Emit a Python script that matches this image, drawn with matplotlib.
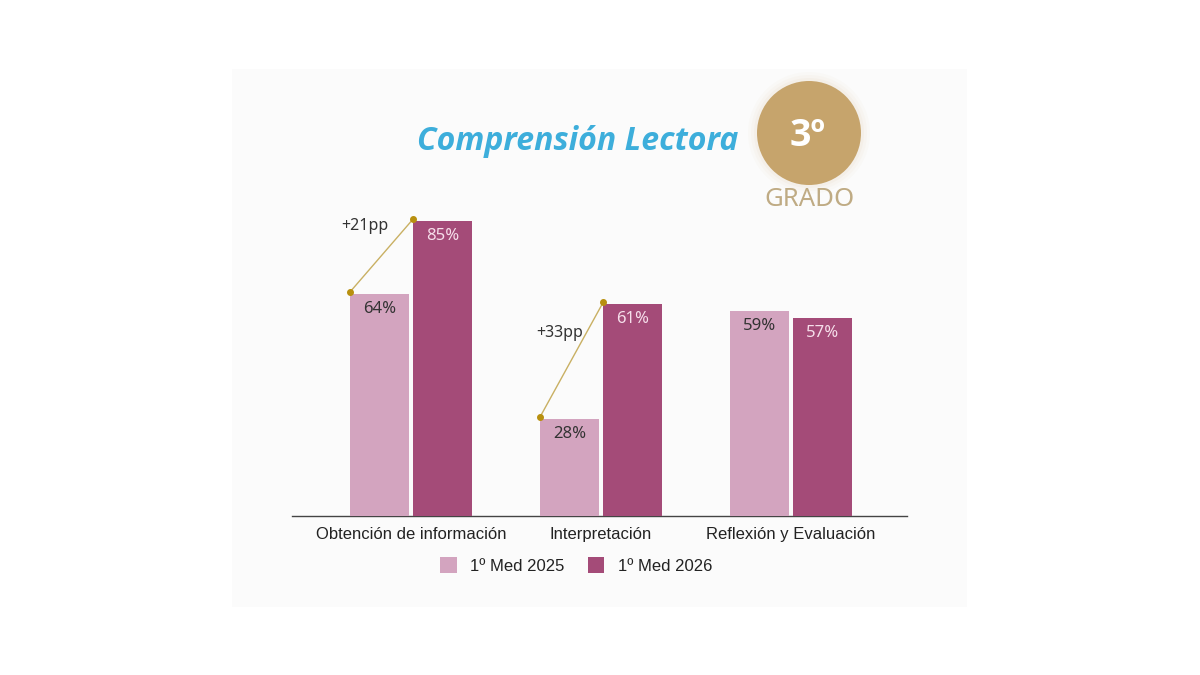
import matplotlib.pyplot as plt
from matplotlib.patches import Circle, Rectangle

categories = ['Obtención de información', 'Interpretación', 'Reflexión y Evaluación']
series_names = ['1º Med 2025', '1º Med 2026']
vals_2025 = [64, 28, 59]
vals_2026 = [85, 61, 57]
gains = ['+21pp', '+33pp', None]

light = '#d3a4bf'
dark = '#a44b78'
gold_line = '#c9b063'
gold_dot = '#b8900f'

fig = plt.figure(figsize=(12, 6.75), dpi=100)
fig.patch.set_facecolor('white')

# background layer in pixel coordinates: panel, title, badge
bg = fig.add_axes([0, 0, 1, 1], zorder=-1)
bg.set_xlim(0, 1200)
bg.set_ylim(675, 0)
bg.axis('off')
bg.add_patch(Rectangle((232, 69), 735, 538, facecolor='#fbfbfb', edgecolor='none'))

bg.text(578, 141, 'Comprensión Lectora', ha='center', va='center',
        fontsize=23, fontweight='bold', style='italic', color='#3daedb', family='Open Sans')

cx, cy, r = 809, 133, 52
for k, a in [(9, 0.03), (6, 0.04), (3, 0.06)]:
    bg.add_patch(Circle((cx, cy), r + k, facecolor='#c7a972', edgecolor='none', alpha=a))
bg.add_patch(Circle((cx, cy), r, facecolor='#c6a46c', edgecolor='none'))
bg.text(cx - 1, cy + 3, '3º', ha='center', va='center', fontsize=27, fontweight='bold',
        color='white', family='Open Sans')
bg.text(cx, 200, 'GRADO', ha='center', va='center', fontsize=18.5,
        color='#bfab84', family='Noto Sans')

ax = fig.add_axes([292 / 1200, 1 - 516 / 675, 615 / 1200, 316 / 675])
ax.set_facecolor('none')

x = list(range(len(categories)))
w = 0.31
off = 0.166
xl = [i - off for i in x]
xd = [i + off for i in x]

ax.bar(xl, vals_2025, width=w, color=light, label=series_names[0], zorder=2)
ax.bar(xd, vals_2026, width=w, color=dark, label=series_names[1], zorder=2)

for i in x:
    ax.text(xl[i], vals_2025[i] - 4.3, f'{vals_2025[i]}%', ha='center', va='center',
            fontsize=12, color='#333333', family='Noto Sans', zorder=3)
    ax.text(xd[i], vals_2026[i] - 4.3, f'{vals_2026[i]}%', ha='center', va='center',
            fontsize=12, color='#f6dfeb', family='Noto Sans', zorder=3)
    if gains[i]:
        x0, x1 = xl[i] - w / 2, xd[i] - w / 2
        y0, y1 = vals_2025[i] + 0.5, vals_2026[i] + 0.5
        ax.plot([x0, x1], [y0, y1], color=gold_line, lw=1, zorder=4)
        ax.plot([x0, x1], [y0, y1], 'o', color=gold_dot, ms=4, zorder=5)

ax.text(xl[0] - 0.075, vals_2026[0] - 1.6, gains[0], ha='center', va='center',
        fontsize=11.5, color='#333333', family='Noto Sans')
ax.text(xl[1] - 0.05, vals_2026[1] - 8.3, gains[1], ha='center', va='center',
        fontsize=11.5, color='#333333', family='Noto Sans')

ax.set_xlim(-0.626, 2.61)
ax.set_ylim(0, 91)
ax.set_xticks(x)
ax.set_xticklabels(categories, fontsize=12, color='#222222', family='Liberation Sans')
ax.tick_params(axis='x', length=0, pad=8)
ax.set_yticks([])
for s in ['top', 'right', 'left']:
    ax.spines[s].set_visible(False)
ax.spines['bottom'].set_color('#444444')
ax.spines['bottom'].set_linewidth(1)
ax.spines['bottom'].set_zorder(1)

leg = ax.legend(loc='upper center', bbox_to_anchor=(0.462, -0.082), ncol=2, frameon=False,
                prop={'family': 'Liberation Sans', 'size': 12}, handlelength=1.0,
                handleheight=1.1, columnspacing=1.4, handletextpad=0.8)
for t in leg.get_texts():
    t.set_color('#222222')

fig.savefig('out.png', dpi=100, facecolor='white')
